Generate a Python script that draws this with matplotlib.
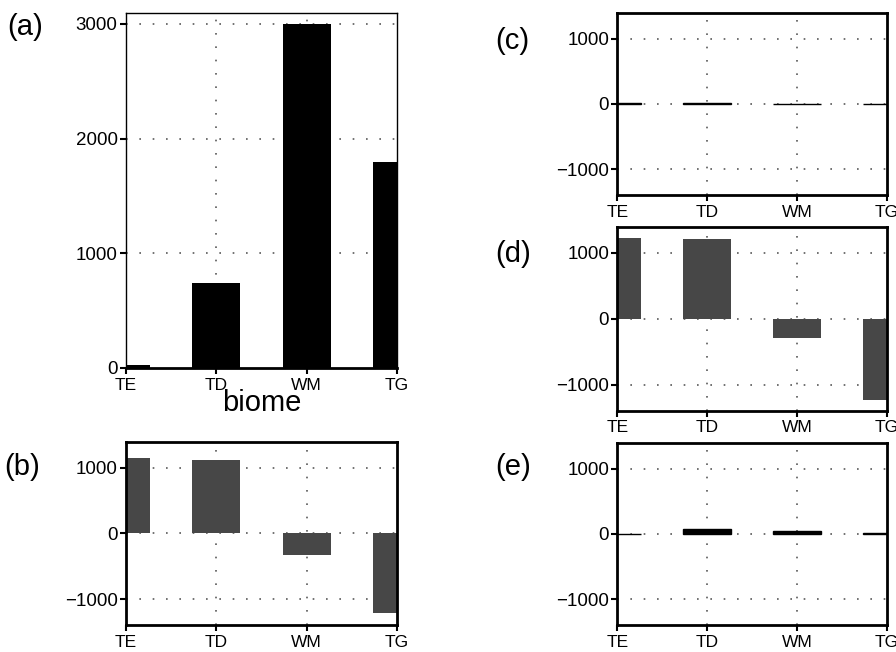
import matplotlib
matplotlib.use("Agg")
import matplotlib.pyplot as plt
import numpy as np

# ==============================
# DATA
# ==============================
biomes = ["TE", "TD", "WM", "TG"]
vals_a = [25, 740, 3000, 1800]
vals_b = [1145, 1115, -325, -1205]
vals_c = [12, 15, -4, -3]
vals_d = [1230, 1215, -300, -1230]
vals_e = [2, 80, 40, 15]
y_ticks_a = [0, 1000, 2000, 3000]
y_ticks_small = [-1000, 0, 1000]

plt.rcParams['font.family'] = ['Liberation Sans', 'DejaVu Sans']
GRAY = "#474747"

fig = plt.figure(figsize=(8.96, 6.52), dpi=100)

x = np.arange(len(biomes))


def style_axes(ax, yticks, ylim, spine_lw=2.0):
    ax.set_xlim(0, 3)
    ax.set_ylim(*ylim)
    ax.set_xticks(x)
    ax.set_xticklabels(biomes, fontsize=12.5)
    ax.set_yticks(yticks)
    ax.tick_params(axis='y', direction='out', length=4.5, width=1.5,
                   labelsize=13.5, pad=1.5)
    ax.tick_params(axis='x', direction='out', length=4, width=1.5, pad=3)
    for s in ax.spines.values():
        s.set_linewidth(spine_lw)
    # dotted grid, interior only
    for xv in x[1:-1]:
        ax.axvline(xv, color='0.35', lw=1.2, ls=(0, (1, 7)), zorder=0.5)
    for yv in yticks:
        if ylim[0] < yv < ylim[1]:
            ax.axhline(yv, color='0.35', lw=1.2, ls=(0, (1, 7)), zorder=0.5)


# ==============================
# (a) totals
# ==============================
ax_a = fig.add_axes([0.1406, 0.4356, 0.3025, 0.5445])
ax_a.bar(x, vals_a, width=0.53, color='black', zorder=2)
style_axes(ax_a, y_ticks_a, (0, 3096), spine_lw=1.0)
ax_a.spines['bottom'].set_linewidth(2.0)
ax_a.set_xlabel("biome", fontsize=21, labelpad=-3)
fig.text(0.008, 0.958, "(a)", fontsize=21, va='center')

# ==============================
# (b) - (e) differences
# ==============================
small_panels = [
    ("(b)", vals_b, [0.1406, 0.0414, 0.3025, 0.2811], (0.005, 0.283), GRAY),
    ("(c)", vals_c, [0.6890, 0.7009, 0.3010, 0.2796], (0.553, 0.937), 'black'),
    ("(d)", vals_d, [0.6890, 0.3701, 0.3010, 0.2822], (0.553, 0.611), GRAY),
    ("(e)", vals_e, [0.6890, 0.0414, 0.3010, 0.2796], (0.553, 0.283), 'black'),
]

for label, vals, rect, lpos, fc in small_panels:
    ax = fig.add_axes(rect)
    ax.bar(x, vals, width=0.53, color=fc,
           edgecolor='black' if fc == 'black' else 'none',
           linewidth=1.0 if fc == 'black' else 0, zorder=2)
    style_axes(ax, y_ticks_small, (-1395, 1395))
    fig.text(lpos[0], lpos[1], label, fontsize=21, va='center')

plt.savefig("out.png", dpi=100)
